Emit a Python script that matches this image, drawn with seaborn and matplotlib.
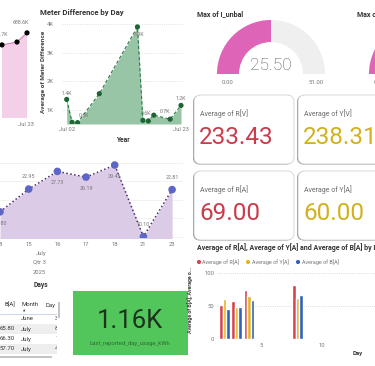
import numpy as np
import pandas as pd
import matplotlib
matplotlib.use("Agg")
import matplotlib.pyplot as plt
import seaborn as sns
from matplotlib.patches import Wedge, FancyBboxPatch, Rectangle

sns.set_theme(style="white")
plt.rcParams['font.family'] = ['Roboto', 'DejaVu Sans']

# ---------------- data ----------------
kwh_days = [18, 21, 23]
kwh_values = [685.7, 686.4, 688.6]          # K

meter_days = [2, 3, 4, 8, 15, 16, 17, 18, 21, 23]
meter_diff = [1.37, 0.57, 0.56, 1.57, 3.90, 0.64, 0.62, 0.82, 0.68, 1.16]  # K
meter_labelled = [0, 2, 4, 5, 8, 9]

ph_days = ["8", "15", "16", "17", "18", "21", "23"]
ph_values = [16.80, 22.95, 27.73, 26.19, 29.45, 10.10, 22.81]
ph_label_above = [False, True, False, False, False, True, True]

gauge_title = "Max of I_unbal"
gauge_value, gauge_min, gauge_max = 25.50, 0.00, 51.00
gauge2_title = "Max of V_unbal"
gauge2_frac = 0.55

card_titles = ["Average of R[V]", "Average of Y[V]", "Average of R[A]", "Average of Y[A]"]
card_values = [233.43, 238.31, 69.00, 60.00]

bar_days = [2, 3, 4, 8]
avg_R = [51, 57, 74, 82]
avg_Y = [61, 48, 65, 62]
avg_B = [45, 48, 59, 67]
bar_series = ["Average of R[A]", "Average of Y[A]", "Average of B[A]"]

tbl_B = ["", "65.80", "66.30", "57.70"]
tbl_month = ["June", "July", "July", "July"]
tbl_day = ["30", "8", "15", "4"]

kpi_value = 1160
kpi_label = "Last_reported_day_usage_kWh"

# ---------------- style ----------------
RED, YEL, BLU = "#d4434f", "#e2b51c", "#2f62bd"
CARD_RED, CARD_YEL = "#c83c4b", "#d2b01e"
GRAY = "#777777"

W, H = 375, 366
fig = plt.figure(figsize=(3.75, 3.66), dpi=100)
fig.patch.set_facecolor("white")


def ax_px(x0, y0, x1, y1, **kw):
    return fig.add_axes([x0 / W, 1 - y1 / H, (x1 - x0) / W, (y1 - y0) / H], **kw)


bg = fig.add_axes([0, 0, 1, 1], zorder=-5)
bg.set_xlim(0, W)
bg.set_ylim(H, 0)
bg.axis("off")


def clean(ax):
    for s in ax.spines.values():
        s.set_visible(False)
    ax.set_facecolor("none")
    ax.tick_params(length=0, labelsize=4.2, colors=GRAY, pad=2)
    ax.set_xlabel("")
    ax.set_ylabel("")


# ---------------- top-left pink partial area ----------------
ax0 = ax_px(0, 20, 30, 118)
ax0.fill_between(kwh_days, kwh_values, 600, color="#f4cfe8", lw=0)
sns.lineplot(x=kwh_days, y=kwh_values, ax=ax0, color="#d77cbb", lw=0.8)
sns.scatterplot(x=kwh_days, y=kwh_values, ax=ax0, color="black", s=14, edgecolor="none", zorder=5)
ax0.set_xlim(17.6, 23.6)
ax0.set_ylim(668.1, 691.7)
clean(ax0)
ax0.set_xticks([])
ax0.set_yticks([])
for i in [0, 2]:
    ax0.text(kwh_days[i] - (0.4 if i == 0 else 1.2), kwh_values[i] + 2.0, f"{kwh_values[i]:.1f}K",
             fontsize=3.8, color=GRAY, ha="center", va="bottom", clip_on=True)
bg.text(26, 125, "Jul 23", fontsize=4.2, color=GRAY, ha="center", va="center")

# ---------------- meter difference ----------------
ax1 = ax_px(62, 20, 184, 124)
ylo = 0.512
ax1.fill_between(meter_days, meter_diff, ylo, color="#93c2a0", lw=0, alpha=0.95)
sns.lineplot(x=meter_days, y=meter_diff, ax=ax1, color="#2f7a48", lw=0.8, linestyle=(0, (3, 2)))
sns.scatterplot(x=meter_days, y=meter_diff, ax=ax1, color="#1d6634", s=14, edgecolor="none", zorder=5)
ax1.set_xlim(1.14, 23.55)
ax1.set_ylim(ylo, 4.14)
clean(ax1)
ax1.set_yticks([1, 2, 3, 4])
ax1.set_yticklabels([f"{v}K" for v in [1, 2, 3, 4]])
ax1.tick_params(axis="y", pad=6)
ax1.yaxis.grid(True, linestyle=":", color="#d8d8d8", lw=0.6)
ax1.set_xticks([2, 23])
ax1.set_xticklabels(["Jul 02", "Jul 23"])
ax1.tick_params(axis="x", pad=2.5)
offs = {0: (0, 0.22), 2: (1.2, 0.25), 4: (0.3, -0.25), 5: (0.5, 0.25), 8: (-1.0, 0.27), 9: (0, 0.25)}
for i in meter_labelled:
    dx, dy = offs[i]
    ax1.text(meter_days[i] + dx, meter_diff[i] + dy, f"{meter_diff[i]:.1f}K", fontsize=3.8,
             color=GRAY, ha="center", va="center")
bg.text(40, 12, "Meter Difference by Day", fontsize=5.6, fontweight="bold", color="#333333",
        ha="left", va="center")
bg.text(43, 72, "Average of Meter Difference", fontsize=4.6, fontweight="bold", color="#444444",
        rotation=90, ha="center", va="center")
bg.text(123, 140, "Year", fontsize=4.8, fontweight="bold", color="#333333", ha="center", va="center")

# ---------------- purple area chart ----------------
ax2 = ax_px(0, 158, 183, 238)
pos = np.arange(len(ph_days))
ax2.fill_between(pos, ph_values, 0, color="#dccbe7", lw=0)
sns.lineplot(x=pos, y=ph_values, ax=ax2, color="#4e2a72", lw=1.1, linestyle=(0, (1, 1.6)))
sns.scatterplot(x=pos, y=ph_values, ax=ax2, color="#5d66c6", s=30, edgecolor="none", zorder=5)
ax2.set_xlim(0.069, 6.38)
ax2.set_ylim(9.73, 31.35)
clean(ax2)
ax2.set_yticks([10, 15, 20, 25, 30])
ax2.set_yticklabels([])
ax2.yaxis.grid(True, linestyle="-", color="#ececec", lw=0.5)
ax2.set_xticks(pos)
ax2.set_xticklabels(ph_days)
ax2.tick_params(axis="x", pad=3)
for p, v, above in zip(pos, ph_values, ph_label_above):
    ax2.text(p, v + (3.3 if above else -3.1), f"{v:.2f}", fontsize=3.9, color=GRAY,
             ha="center", va="center", clip_on=False)
bg.text(41, 253, "July", fontsize=4.2, color=GRAY, ha="center", va="center")
bg.text(39, 262, "Qtr 3", fontsize=4.2, color=GRAY, ha="center", va="center")
bg.text(39, 272, "2025", fontsize=4.2, color=GRAY, ha="center", va="center")
bg.text(41, 285, "Days", fontsize=4.8, fontweight="bold", color="#333333", ha="center", va="center")

# ---------------- gauges ----------------
def gauge(cx, cy, frac):
    bg.add_patch(Wedge((cx, cy), 54, 180, 360, width=22, facecolor="#efefef", edgecolor="none"))
    bg.add_patch(Wedge((cx, cy), 54, 180, 180 + 180 * frac, width=22, facecolor="#de64b7",
                       edgecolor="none"))

gauge(271, 74, (gauge_value - gauge_min) / (gauge_max - gauge_min))
bg.text(197, 14, gauge_title, fontsize=5.0, fontweight="bold", color="#333333", ha="left", va="center")
bg.text(271, 65, f"{gauge_value:.2f}", fontsize=12.5, fontweight="light", color="#555555",
        ha="center", va="center")
bg.text(228, 83, f"{gauge_min:.2f}", fontsize=4.3, color=GRAY, ha="center", va="center")
bg.text(316, 83, f"{gauge_max:.2f}", fontsize=4.3, color=GRAY, ha="center", va="center")
gauge(423, 74, gauge2_frac)
bg.text(357, 14, gauge2_title, fontsize=5.0, fontweight="bold", color="#333333", ha="left", va="center")
bg.text(380, 83, "0.00", fontsize=4.3, color=GRAY, ha="center", va="center")

# ---------------- cards ----------------
card_boxes = [(194, 95), (298, 95), (194, 171), (298, 171)]
card_cols = [CARD_RED, CARD_YEL, CARD_RED, CARD_YEL]
for (x, y), t, v, c in zip(card_boxes, card_titles, card_values, card_cols):
    bg.add_patch(FancyBboxPatch((x - 1.0, y + 0.5), 100, 69, boxstyle="round,pad=0,rounding_size=7",
                                facecolor="#8a8a8a", edgecolor="none", zorder=1))
    bg.add_patch(FancyBboxPatch((x, y), 100, 69, boxstyle="round,pad=0,rounding_size=7",
                                facecolor="white", edgecolor="#d2d2d2", lw=0.6, zorder=2))
    bg.text(x + 6, y + 19, t, fontsize=5.0, color="#6a6a6a", ha="left", va="center", zorder=3)
    bg.text(x + 5, y + 42, f"{v:.2f}", fontsize=17.5, color=c, ha="left", va="center", zorder=3)

# ---------------- bar chart ----------------
bar_df = pd.DataFrame({
    "Day": bar_days * 3,
    "Value": avg_R + avg_Y + avg_B,
    "Series": [bar_series[0]] * 4 + [bar_series[1]] * 4 + [bar_series[2]] * 4,
})
ax3 = ax_px(217, 268, 375, 339)
sns.barplot(data=bar_df, x="Day", y="Value", hue="Series", native_scale=True,
            palette=[RED, YEL, BLU], ax=ax3, legend=False, width=0.85, saturation=1)
ax3.set_xlim(1.39, 14.34)
ax3.set_ylim(0, 107)
clean(ax3)
ax3.set_yticks([0, 50, 100])
ax3.yaxis.grid(True, linestyle=":", color="#d0d0d0", lw=0.6)
ax3.set_axisbelow(True)
ax3.set_xticks([5, 10])
ax3.tick_params(axis="x", pad=3)
bg.text(197, 248, "Average of R[A], Average of Y[A] and Average of B[A] by Day", fontsize=5.0,
        fontweight="bold", color="#333333", ha="left", va="center")
leg_x = [199, 248, 298]
for lx, name, col in zip(leg_x, bar_series, [RED, YEL, BLU]):
    bg.scatter([lx], [262], s=9, color=col, edgecolor="none")
    bg.text(lx + 3.5, 262, name, fontsize=3.9, color=GRAY, ha="left", va="center")
bg.text(190, 300, "Average of B[A], Average o...", fontsize=3.8, fontweight="bold", color="#444444",
        rotation=90, ha="center", va="center")
bg.text(358, 353, "Day", fontsize=4.3, fontweight="bold", color="#333333", ha="center", va="center")

# ---------------- KPI card ----------------
bg.add_patch(Rectangle((73, 291), 115, 64, facecolor="#52c65a", edgecolor="none"))
bg.text(130, 321, f"{kpi_value / 1000:.2f}K", fontsize=18.5, color="#1d3320", ha="center", va="center")
bg.text(130, 343, kpi_label, fontsize=4.2, color="#2f6a36", ha="center", va="center")

# ---------------- table ----------------
axt = ax_px(0, 298, 60, 360)
axt.set_xlim(0, 60)
axt.set_ylim(360, 298)
axt.axis("off")
rows_y = [319, 329, 339, 349]
for i, ry in enumerate(rows_y):
    if i in (1, 3):
        axt.add_patch(Rectangle((0, ry - 5), 57, 10, facecolor="#eeeeee", edgecolor="none"))
axt.plot([0, 57], [313.5, 313.5], color="#b8c8dc", lw=0.5)
axt.text(15, 305, "B[A]", fontsize=4.3, color="#333333", ha="right", va="center", clip_on=True)
axt.text(21, 305, "Month", fontsize=4.3, color="#333333", ha="left", va="center", clip_on=True)
axt.text(46, 305, "Day", fontsize=4.3, color="#333333", ha="left", va="center", clip_on=True)
axt.text(24, 310.5, "\u25b2", fontsize=2.2, color="#333333", ha="center", va="center")
for b, m, d, ry in zip(tbl_B, tbl_month, tbl_day, rows_y):
    axt.text(15, ry, b, fontsize=4.3, color="#333333", ha="right", va="center", clip_on=True)
    axt.text(21, ry, m, fontsize=4.3, color="#333333", ha="left", va="center", clip_on=True)
    axt.text(55, ry, d, fontsize=4.3, color="#333333", ha="left", va="center", clip_on=True)
axt.add_patch(Rectangle((57, 298), 60, 62, facecolor="white", edgecolor="none", zorder=4))
axt.add_patch(Rectangle((57.5, 302), 2.2, 16, facecolor="#c4c4c4", edgecolor="none", zorder=5))
axt.add_patch(Rectangle((0, 355.5), 52, 2.0, facecolor="#c4c4c4", edgecolor="none", zorder=5))

fig.savefig("out.png", dpi=100)
